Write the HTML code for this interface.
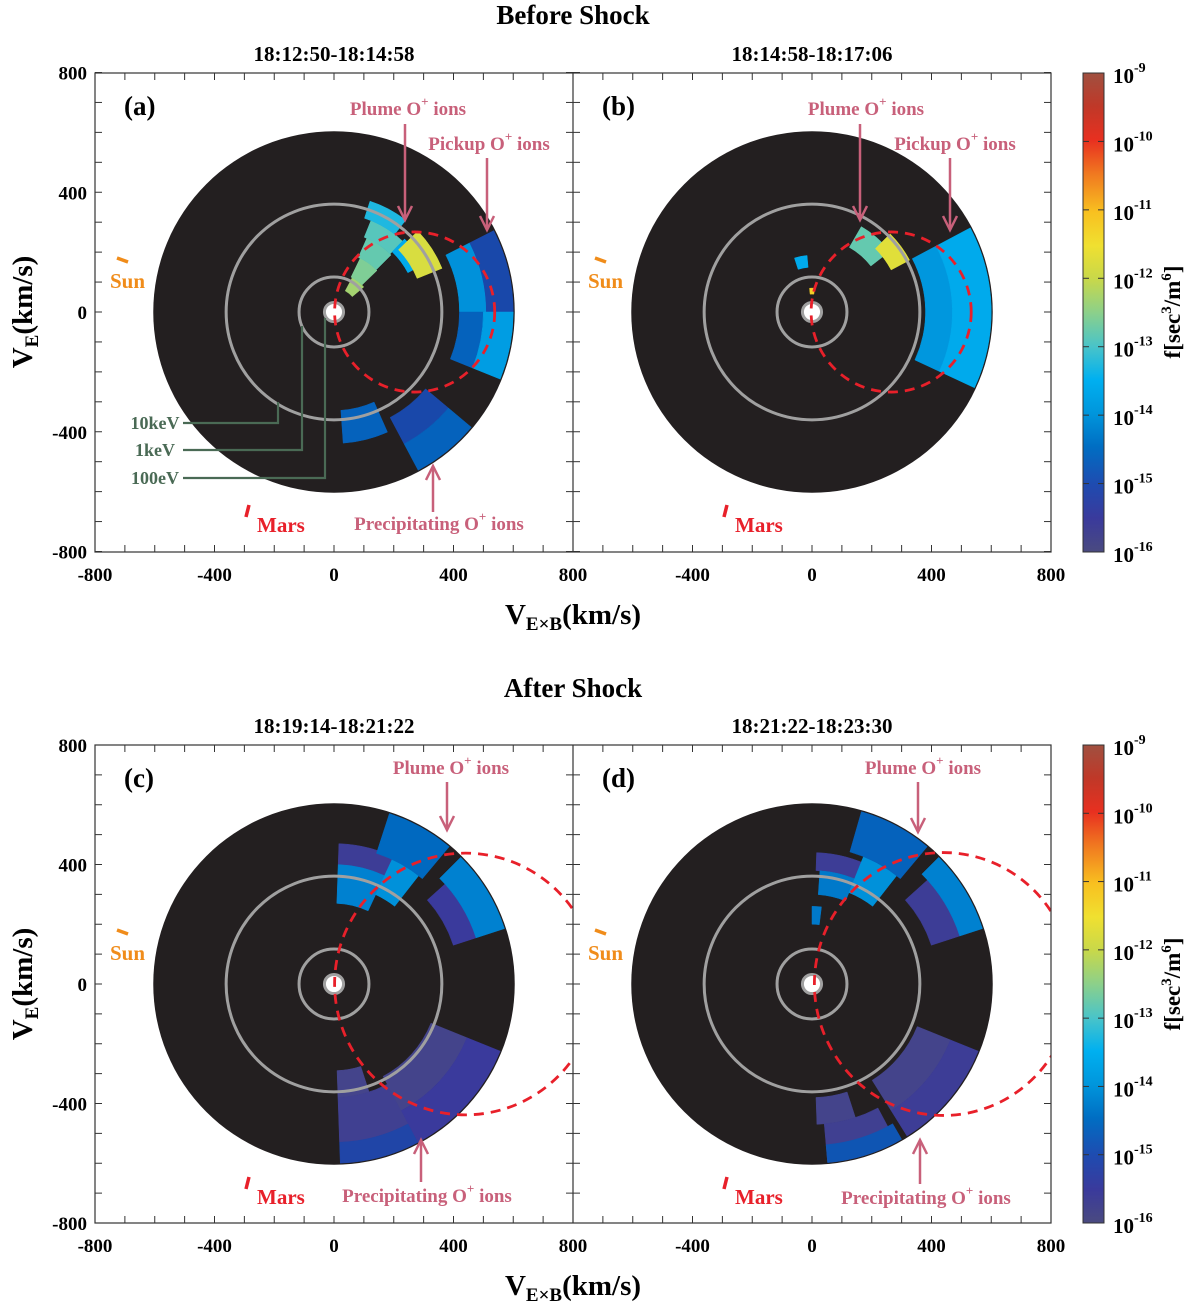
<!DOCTYPE html>
<html><head><meta charset="utf-8"><style>
body{margin:0;background:#fff;}
svg{display:block;font-family:"Liberation Serif",serif;}
</style></head><body>
<svg id="fig" width="1200" height="1304" viewBox="0 0 1200 1304" xmlns="http://www.w3.org/2000/svg">
<defs>
<linearGradient id="cmap" x1="0" y1="1" x2="0" y2="0">
<stop offset="0" stop-color="#4a4a80"/><stop offset="0.07" stop-color="#3a3a9c"/>
<stop offset="0.14" stop-color="#1f4bb0"/><stop offset="0.22" stop-color="#006ec3"/>
<stop offset="0.29" stop-color="#0096dc"/><stop offset="0.36" stop-color="#00b0f0"/>
<stop offset="0.43" stop-color="#4ac4c8"/><stop offset="0.5" stop-color="#8cd08a"/>
<stop offset="0.57" stop-color="#c8d84a"/><stop offset="0.64" stop-color="#f0e030"/>
<stop offset="0.71" stop-color="#f8c020"/><stop offset="0.79" stop-color="#f07820"/>
<stop offset="0.86" stop-color="#e83020"/><stop offset="0.93" stop-color="#c03828"/>
<stop offset="1" stop-color="#a05040"/>
</linearGradient>
<clipPath id="clip0"><rect x="95" y="73" width="478" height="479"/></clipPath>
<clipPath id="clip1"><rect x="573" y="73" width="478" height="479"/></clipPath>
<clipPath id="clip2"><rect x="95" y="745" width="478" height="478"/></clipPath>
<clipPath id="clip3"><rect x="573" y="745" width="478" height="478"/></clipPath>
</defs>
<g id="root"></g>
</svg>
<script>
// ---- data ----
const panelTitles = ["18:12:50-18:14:58","18:14:58-18:17:06","18:19:14-18:21:22","18:21:22-18:23:30"];
const panelLetters = ["(a)","(b)","(c)","(d)"];
const axisTicks = [-800,-400,0,400,800];
const cbarLabels = ["-9","-10","-11","-12","-13","-14","-15","-16"];
const energyRings = [361,117,32]; // km/s radii of 10keV, 1keV, 100eV
// patches: [rInner, rOuter, angleStart, angleEnd, log10 f]
const patchesA = [
 [420,510,0,27,-14.0],[510,600,0,27,-15.0],[420,500,-22,0,-14.6],[500,600,-22,0,-13.8],
 [330,440,-86,-66,-14.6],[400,500,-62,-40,-15.0],[500,600,-62,-40,-14.6],
 [80,130,40,62,-12.3],[130,200,44,64,-12.6],[200,270,45,66,-12.8],[270,330,46,68,-12.9],[330,390,52,72,-13.3],
 [280,340,28,46,-13.6],[300,390,22,44,-11.8]
];
const patchesB = [
 [380,470,-25,28,-13.9],[470,600,-25,28,-13.6],
 [250,330,38,60,-12.8],[300,370,28,45,-11.7],[150,190,95,108,-13.6],[60,80,84,96,-11.2]
];
const patchesC = [
 [400,470,62,88,-15.6],[270,400,65,88,-14.2],[330,460,52,65,-14.0],[460,600,50,72,-14.5],
 [420,500,18,42,-15.5],[500,600,18,45,-14.2],
 [290,380,-88,-72,-15.8],[380,530,-88,-62,-15.7],[530,600,-88,-62,-15.1],
 [350,480,-62,-22,-15.8],[480,600,-62,-22,-15.5]
];
const patchesD = [
 [380,440,62,88,-15.6],[300,380,68,86,-14.3],[330,460,52,68,-14.0],[460,600,50,74,-14.6],
 [420,520,18,42,-15.6],[520,600,18,45,-14.2],[200,260,83,90,-14.3],
 [380,470,-88,-72,-15.8],[470,600,-85,-62,-15.7],[540,600,-85,-60,-14.8],
 [380,500,-58,-22,-15.8],[500,600,-58,-22,-15.6]
];
const patchSets = [patchesA,patchesB,patchesC,patchesD];
const ellipseC = [[270,0,268,268],[265,0,268,268],[440,0,438,438],[440,0,432,440]]; // cx, cy, rx, ry (km/s)

// ---- helpers ----
const NS="http://www.w3.org/2000/svg";
const root=document.getElementById('root');
function el(tag,attrs,parent,text){const e=document.createElementNS(NS,tag);for(const k in attrs)e.setAttribute(k,attrs[k]);if(text!==undefined)e.textContent=text;(parent||root).appendChild(e);return e;}
const S=239/800;
const centers=[[334,312],[812,312],[334,984],[812,984]];
const stops=[[-16,[74,74,128]],[-15.5,[58,58,156]],[-15,[25,72,170]],[-14.5,[0,105,192]],[-14,[0,145,218]],[-13.5,[0,176,240]],[-13,[74,196,200]],[-12.5,[140,208,138]],[-12,[200,216,74]],[-11.5,[240,228,48]],[-11,[248,192,32]],[-10.5,[240,120,32]],[-10,[232,48,32]],[-9.5,[192,56,40]],[-9,[160,80,64]]];
function cmap(v){for(let i=0;i<stops.length-1;i++){const a=stops[i],b=stops[i+1];if(v<=b[0]){const t=Math.max(0,(v-a[0])/(b[0]-a[0]));const c=a[1].map((x,j)=>Math.round(x+(b[1][j]-x)*t));return `rgb(${c})`;}}return 'rgb(160,80,64)';}
function px(p,vx){return centers[p][0]+vx*S;}
function py(p,vy){return centers[p][1]-vy*S;}
function sector(p,r1,r2,a1,a2){const d=Math.PI/180;const P=(r,a)=>[px(p,r*Math.cos(a*d)),py(p,r*Math.sin(a*d))];
 const A=P(r2,a1),B=P(r2,a2),C=P(r1,a2),D=P(r1,a1);const la=(a2-a1)>180?1:0;
 return `M${A}A${r2*S},${r2*S} 0 ${la} 0 ${B}L${C}A${r1*S},${r1*S} 0 ${la} 1 ${D}Z`;}

// titles
el('text',{x:573,y:24,'text-anchor':'middle','font-size':27,'font-weight':'bold',},root,'Before Shock');
el('text',{x:573,y:697,'text-anchor':'middle','font-size':27,'font-weight':'bold',},root,'After Shock');

for(let p=0;p<4;p++){
 const [cx,cy]=centers[p];
 const g=el('g',{'clip-path':'url(#clip'+p+')'});
 
 
 const disk=el('circle',{cx,cy,r:605*S,fill:'#231f20'},g);
 
 
 for(const pt of patchSets[p]){
  const e=el('path',{d:sector(p,pt[0],pt[1],pt[2],pt[3]),fill:cmap(pt[4]),stroke:cmap(pt[4]),'stroke-width':0.5},g);
  
  
 }
 energyRings.forEach((r,i)=>{const c=el('circle',{cx,cy,r:r*S,fill:i==2?'#fff':'none',stroke:'#a0a0a0','stroke-width':3},g);
  
  });
 const ec=ellipseC[p];
 const ell=el('ellipse',{cx:px(p,ec[0]),cy:py(p,ec[1]),rx:ec[2]*S,ry:ec[3]*S,fill:'none',stroke:'#e8202a','stroke-width':2.8,'stroke-dasharray':'10 7'},g);
 
 
}
// axes boxes & ticks
for(const top of [true,false]){
 const y0=top?73:745,y1=top?552:1223;const cy=top?312:984;const sc=(y1-y0)/1600;
 el('rect',{x:95,y:y0,width:956,height:y1-y0,fill:'none',stroke:'#333','stroke-width':1.2});
 el('line',{x1:573,y1:y0,x2:573,y2:y1,stroke:'#333','stroke-width':1.2});
 for(const cx of [334,812]){
  for(let v=-800;v<=800;v+=100){
   const x=cx+v*S;
   el('line',{x1:x,y1:y1,x2:x,y2:y1-7,stroke:'#333'});el('line',{x1:x,y1:y0,x2:x,y2:y0+7,stroke:'#333'});
   const y=cy-v*sc;
   el('line',{x1:cx-239,y1:y,x2:cx-232,y2:y,stroke:'#333'});el('line',{x1:cx+239,y1:y,x2:cx+232,y2:y,stroke:'#333'});
  }
  axisTicks.forEach(v=>{if(cx===812&&v===-800)return;const t=el('text',{x:cx+v*S,y:y1+29,'text-anchor':'middle','font-size':19,'font-weight':'bold'},root,String(v));
   });
 }
 axisTicks.forEach(v=>{const t=el('text',{x:87,y:cy-v*sc+7,'text-anchor':'end','font-size':19,'font-weight':'bold'},root,String(v));
  });
 const yt=el('text',{transform:`translate(32,${cy}) rotate(-90)`,'text-anchor':'middle','font-size':29,'font-weight':'bold',});
 el('tspan',{},yt,'V');el('tspan',{'font-size':19,dy:6},yt,'E');el('tspan',{dy:-6},yt,'(km/s)');
 const xt=el('text',{x:573,y:y1+72,'text-anchor':'middle','font-size':29,'font-weight':'bold',});
 el('tspan',{},xt,'V');el('tspan',{'font-size':19,dy:6},xt,'E×B');el('tspan',{dy:-6},xt,'(km/s)');
 el('rect',{x:1083,y:y0,width:21,height:y1-y0,fill:'url(#cmap)',stroke:'#333','stroke-width':1,});
 cbarLabels.forEach((l,i)=>{const y=y0+i*(y1-y0)/7;
  el('line',{x1:1083,y1:y,x2:1089,y2:y,stroke:'#333'});el('line',{x1:1104,y1:y,x2:1098,y2:y,stroke:'#333'});
  const t=el('text',{x:1113,y:y+10,'font-size':21,'font-weight':'bold'});
  
  el('tspan',{},t,'10');el('tspan',{'font-size':14,dy:-11},t,l);});
 const ct=el('text',{transform:`translate(1180,${cy}) rotate(-90)`,'text-anchor':'middle','font-size':23,'font-weight':'bold',});
 el('tspan',{},ct,'f[sec');el('tspan',{'font-size':15,dy:-9},ct,'3');el('tspan',{dy:9},ct,'/m');el('tspan',{'font-size':15,dy:-9},ct,'6');el('tspan',{dy:9},ct,']');
}
for(let p=0;p<4;p++){
 const [cx,cy]=centers[p];
 el('text',{x:cx,y:(p<2?73:745)-12,'text-anchor':'middle','font-size':21,'font-weight':'bold',},root,panelTitles[p]);
 el('text',{x:cx-210,y:cy-197,'font-size':27,'font-weight':'bold',},root,panelLetters[p]);
 el('line',{x1:cx-217,y1:cy-54,x2:cx-206,y2:cy-50,stroke:'#f08c1a','stroke-width':3.5});
 el('text',{x:cx-224,y:cy-24,'font-size':21,'font-weight':'bold',fill:'#f08c1a',},root,'Sun');
 el('line',{x1:cx-88,y1:cy+205,x2:cx-85,y2:cy+193,stroke:'#e8202a','stroke-width':3.5});
 el('text',{x:cx-77,y:cy+220,'font-size':21,'font-weight':'bold',fill:'#e8202a',},root,'Mars');
}
const pink='#c8607a';
function ann(x,y,txt,ax,ay1,ay2,name){
 const t=el('text',{x,y,'text-anchor':'middle','font-size':19,'font-weight':'bold',fill:pink,});
 el('tspan',{},t,txt[0]);el('tspan',{'font-size':13,dy:-9},t,'+');el('tspan',{dy:9},t,txt[1]);
 el('line',{x1:ax,y1:ay1,x2:ax,y2:ay2,stroke:pink,'stroke-width':2.5});
 const d=ay2>ay1?1:-1;
 el('path',{d:`M${ax-7},${ay2-14*d}L${ax},${ay2}L${ax+7},${ay2-14*d}`,fill:'none',stroke:pink,'stroke-width':2.5});
}
ann(408,115,['Plume O',' ions'],405,124,220,'plume-annotation');
ann(489,150,['Pickup O',' ions'],487,158,230,'pickup-annotation');
ann(439,530,['Precipitating O',' ions'],433,512,466,'precipitating-annotation');
ann(866,115,['Plume O',' ions'],860,124,220,'plume-annotation');
ann(955,150,['Pickup O',' ions'],950,158,230,'pickup-annotation');
ann(451,774,['Plume O',' ions'],447,782,830,'plume-annotation');
ann(427,1202,['Precipitating O',' ions'],421,1182,1140,'precipitating-annotation');
ann(923,774,['Plume O',' ions'],918,782,832,'plume-annotation');
ann(926,1204,['Precipitating O',' ions'],920,1184,1140,'precipitating-annotation');
const green='#4a6a55';
[['10keV',423,278,402],['1keV',450,302,326],['100eV',478,325,318]].forEach(([l,y,x,yt])=>{
 el('text',{x:155,y:y+6,'text-anchor':'middle','font-size':18,'font-weight':'bold',fill:green,},root,l);
 el('path',{d:`M183,${y}H${x}V${yt}`,fill:'none',stroke:green,'stroke-width':2.2});
});
</script>
</body></html>
